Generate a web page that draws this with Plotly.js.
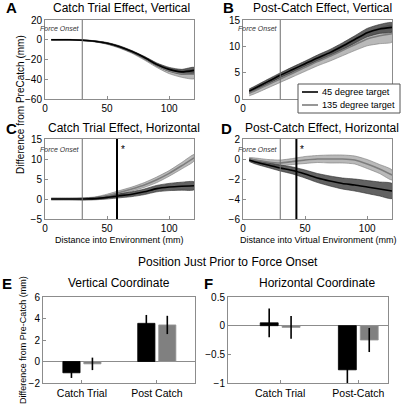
<!DOCTYPE html>
<html><head><meta charset="utf-8">
<script src="https://cdn.plot.ly/plotly-3.0.1.min.js"></script>
<style>html,body{margin:0;padding:0;background:#fff}#c{width:401px;height:406px}</style>
</head><body><div id="c"></div>
<script>
// ---- data ----
const dist = [5,10,20,30,40,50,60,70,80,90,100,110,120];
// Panel A: Catch Trial Effect, Vertical
const aBlackMean = [0,0,0,-0.5,-1.5,-3.5,-7,-12,-18,-25,-30,-32.5,-31];
const aBlackErr  = [0.3,0.3,0.3,0.4,0.5,0.7,0.9,1,1.2,1.5,2,2.5,3];
const aGrayMean  = [0,0,0,-0.5,-1.6,-3.8,-7.5,-12.5,-19,-26,-31.5,-34.5,-35];
const aGrayErr   = [0.3,0.3,0.3,0.4,0.5,0.8,1,1.2,1.5,2,2.8,3.5,4.5];
// Panel B: Post-Catch Effect, Vertical
const bBlackMean = [1.5,2.1,3.3,4.5,5.6,6.7,7.8,8.8,10.0,11.3,12.6,13.3,13.6];
const bBlackErr  = [0.4,0.4,0.45,0.45,0.5,0.5,0.55,0.6,0.65,0.7,0.8,0.85,0.9];
const bGrayMean  = [1.1,1.6,2.7,3.8,4.9,6.0,7.1,8.1,9.2,10.3,11.4,12.0,12.4];
const bGrayErr   = [0.5,0.55,0.6,0.65,0.7,0.75,0.8,0.9,1.0,1.1,1.3,1.5,1.6];
// Panel C: Catch Trial Effect, Horizontal
const cBlackMean = [0,0,0,0,0.1,0.4,0.8,1.2,1.8,2.6,3.0,3.2,3.3];
const cBlackErr  = [0.2,0.2,0.2,0.2,0.3,0.4,0.5,0.6,0.7,0.8,0.9,1.0,1.0];
const cGrayMean  = [0,0,0,0,0.2,0.8,1.6,2.5,3.5,4.8,6.4,8.3,10.3];
const cGrayErr   = [0.2,0.2,0.2,0.3,0.3,0.4,0.5,0.5,0.6,0.7,0.7,0.8,0.8];
// Panel D: Post-Catch Effect, Horizontal
const dBlackMean = [-0.1,-0.3,-0.6,-0.9,-1.15,-1.5,-1.9,-2.2,-2.45,-2.6,-2.8,-3.0,-3.2];
const dBlackErr  = [0.15,0.2,0.25,0.3,0.35,0.4,0.45,0.5,0.55,0.6,0.65,0.7,0.75];
const dGrayMean  = [0,-0.1,-0.3,-0.4,-0.25,-0.1,0,0,0,-0.1,-0.5,-1.0,-1.6];
const dGrayErr   = [0.15,0.2,0.25,0.3,0.3,0.35,0.35,0.4,0.4,0.4,0.45,0.45,0.5];
const forceOnset = 30;
const sigC = 58, sigD = 43;
// Panels E/F: Position just prior to force onset
const barCats = ['Catch Trial','Post Catch'];
const barCatsF = ['Catch Trial','Post-Catch'];
const eBlack = [-1.05, 3.55], eBlackSE = [0.48, 0.78];
const eGray  = [-0.22, 3.4],  eGraySE  = [0.58, 0.85];
const fBlack = [0.05, -0.77], fBlackSE = [0.25, 0.25];
const fGray  = [-0.03, -0.25], fGraySE = [0.2, 0.21];
const seriesNames = ['45 degree target','135 degree target'];
const distTicks = [0,50,100];
const distTicksB = ['0','',''];   // 50 and 100 are hidden behind the legend in panel B

// ---- build ----
const W=401,H=406;
const px=(a,b)=>[a/W,b/W];
const py=(top,bot)=>[1-bot/H,1-top/H];
const FONT='Liberation Sans, Arial, sans-serif';
const AX='#8c8c8c';
const BLACKC='#000', GRAYC='rgb(125,125,125)';
const traces=[];
function band(xa,ya,mean,err,fill,edge){
  const up=mean.map((m,i)=>m+err[i]);
  const lo=mean.map((m,i)=>m-err[i]);
  traces.push({x:dist.concat(dist.slice().reverse()),y:up.concat(lo.slice().reverse()),
    xaxis:xa,yaxis:ya,mode:'lines',fill:'toself',fillcolor:fill,
    line:{color:edge,width:0.6,shape:'spline',smoothing:0.6},showlegend:false,hoverinfo:'skip'});
}
function mline(xa,ya,mean,color,name){
  traces.push({x:dist,y:mean,xaxis:xa,yaxis:ya,mode:'lines',name:name,
    line:{color:color,width:1.6,shape:'spline',smoothing:0.6},showlegend:false});
}
const GF='rgb(185,185,185)', GE='rgb(120,120,120)', BF='rgba(70,70,70,0.85)', BE='rgb(40,40,40)';
const panels=[
 ['x','y',aBlackMean,aBlackErr,aGrayMean,aGrayErr],
 ['x2','y2',bBlackMean,bBlackErr,bGrayMean,bGrayErr],
 ['x3','y3',cBlackMean,cBlackErr,cGrayMean,cGrayErr],
 ['x4','y4',dBlackMean,dBlackErr,dGrayMean,dGrayErr]];
panels.forEach(p=>{
  band(p[0],p[1],p[4],p[5],GF,GE);
  band(p[0],p[1],p[2],p[3],BF,BE);
  mline(p[0],p[1],p[4],GRAYC,seriesNames[1]);
  mline(p[0],p[1],p[2],BLACKC,seriesNames[0]);
});
function bars(xa,ya,vals,se,color,name){
  traces.push({type:'bar',x:[1,2],y:vals,xaxis:xa,yaxis:ya,name:name,showlegend:false,
    marker:{color:color,line:{color:color==='#000'?'#000':'rgb(150,150,150)',width:0.8}},
    error_y:{type:'data',array:se,visible:true,color:'#000',thickness:1.6,width:0}});
}
bars('x5','y5',eBlack,eBlackSE,'#000',seriesNames[0]);
bars('x5','y5',eGray,eGraySE,'rgb(128,128,128)',seriesNames[1]);
bars('x6','y6',fBlack,fBlackSE,'#000',seriesNames[0]);
bars('x6','y6',fGray,fGraySE,'rgb(128,128,128)',seriesNames[1]);

function axis(domain,range,extra){
  return Object.assign({domain:domain,range:range,showline:true,mirror:true,linecolor:AX,linewidth:1,
    ticks:'inside',ticklen:3,tickcolor:AX,showgrid:false,zeroline:false,
    tickfont:{family:FONT,size:10,color:'#000'},fixedrange:true},extra||{});
}
const xA=px(45,194), xB=px(243,392), yTop=py(20,99), yMid=py(139,219);
const layout={
  width:W,height:H,margin:{l:0,r:0,t:0,b:0},paper_bgcolor:'#fff',plot_bgcolor:'#fff',
  showlegend:false,barmode:'group',bargap:0.44,bargroupgap:0.18,
  xaxis:axis(xA,[0,120],{anchor:'y',tickvals:distTicks}),
  yaxis:axis(yTop,[-60,20],{anchor:'x',tickvals:[-60,-40,-20,0,20]}),
  xaxis2:axis(xB,[0,120],{anchor:'y2',tickvals:distTicks,ticktext:distTicksB}),
  yaxis2:axis(yTop,[0,15],{anchor:'x2',tickvals:[0,5,10,15]}),
  xaxis3:axis(xA,[0,120],{anchor:'y3',tickvals:distTicks}),
  yaxis3:axis(yMid,[-5,15],{anchor:'x3',tickvals:[-5,0,5,10,15]}),
  xaxis4:axis(xB,[0,120],{anchor:'y4',tickvals:distTicks}),
  yaxis4:axis(yMid,[-6,2],{anchor:'x4',tickvals:[-6,-4,-2,0,2]}),
  xaxis5:axis(px(43,195),[0.48,2.51],{anchor:'y5',tickvals:[1,2],ticktext:barCats,tickfont:{family:FONT,size:10.5,color:'#000'}}),
  yaxis5:axis(py(297,383),[-2,6],{anchor:'x5',tickvals:[-2,0,2,4,6],zeroline:true,zerolinecolor:AX,zerolinewidth:1}),
  xaxis6:axis(px(228,388),[0.333,2.38],{anchor:'y6',tickvals:[1,2],ticktext:barCatsF,tickfont:{family:FONT,size:10.5,color:'#000'}}),
  yaxis6:axis(py(297,383),[-1,0.5],{anchor:'x6',tickvals:[-1,-0.5,0,0.5],zeroline:true,zerolinecolor:AX,zerolinewidth:1}),
  shapes:[],annotations:[]
};
// vertical lines
[['x','y'],['x2','y2'],['x3','y3'],['x4','y4']].forEach(a=>{
  layout.shapes.push({type:'line',xref:a[0],yref:a[1]+' domain',x0:forceOnset,x1:forceOnset,y0:0,y1:1,line:{color:'rgb(110,110,110)',width:1}});
});
layout.shapes.push({type:'line',xref:'x3',yref:'y3 domain',x0:sigC,x1:sigC,y0:0,y1:1,line:{color:'#000',width:2}});
layout.shapes.push({type:'line',xref:'x4',yref:'y4 domain',x0:sigD,x1:sigD,y0:0,y1:1,line:{color:'#000',width:2}});
function ann(text,x,y,o){layout.annotations.push(Object.assign({text:text,xref:'paper',yref:'paper',x:x/W,y:1-y/H,
  showarrow:false,font:{family:FONT,size:12,color:'#000'},xanchor:'center',yanchor:'middle'},o||{}));}
// manual legend (in panel B)
layout.shapes.push({type:'rect',xref:'paper',yref:'paper',x0:298/W,x1:400/W,y0:1-113/H,y1:1-84/H,
  line:{color:'#555',width:1},fillcolor:'#fff',layer:'above'});
[[seriesNames[0],BLACKC,92],[seriesNames[1],GRAYC,105]].forEach(l=>{
  layout.shapes.push({type:'line',xref:'paper',yref:'paper',x0:302/W,x1:318/W,y0:1-l[2]/H,y1:1-l[2]/H,
    line:{color:l[1],width:1.6},layer:'above'});
  ann(l[0],320,l[2],{xanchor:'left',font:{family:FONT,size:9.2,color:'#000'}});
});
// titles
ann('Catch Trial Effect, Vertical',122,8);
ann('Post-Catch Effect, Vertical',322,8);
ann('Catch Trial Effect, Horizontal',124,128);
ann('Post-Catch Effect, Horizontal',322,128);
ann('Position Just Prior to Force Onset',228,262);
ann('Vertical Coordinate',119,283);
ann('Horizontal Coordinate',317,283);
// panel letters
const LF={family:FONT,size:15,color:'#000'};
[['A',11,7],['B',229,7],['C',11,128],['D',226,128],['E',7,283],['F',208,283]].forEach(l=>{
  ann('<b>'+l[0]+'</b>',l[1],l[2],{font:LF});
});
// axis titles
ann('Distance into Environment (mm)',119,240,{font:{family:FONT,size:9,color:'#000'}});
ann('Distance into Virtual Environment (mm)',318,240,{font:{family:FONT,size:9,color:'#000'}});
ann('Difference from PreCatch (mm)',21,105,{textangle:-90,font:{family:FONT,size:10,color:'#000'}});
ann('Difference from Pre-Catch (mm)',23,340,{textangle:-90,font:{family:FONT,size:9,color:'#000'}});
// force onset labels
[['x',29],['x2',29],['x3',149],['x4',149]].forEach(a=>{
  layout.annotations.push({text:'<i>Force Onset</i>',xref:a[0],yref:'paper',x:forceOnset,y:1-a[1]/H,xanchor:'right',yanchor:'middle',
    showarrow:false,font:{family:FONT,size:7,color:'#333'}});
});
layout.annotations.push({text:'*',xref:'x3',yref:'paper',x:sigC,y:1-149/H,xanchor:'left',yanchor:'middle',showarrow:false,xshift:2,font:{family:FONT,size:10,color:'#000'}});
layout.annotations.push({text:'*',xref:'x4',yref:'paper',x:sigD,y:1-149/H,xanchor:'left',yanchor:'middle',showarrow:false,xshift:2,font:{family:FONT,size:10,color:'#000'}});
Plotly.newPlot('c',traces,layout,{staticPlot:true,displayModeBar:false});
</script></body></html>
